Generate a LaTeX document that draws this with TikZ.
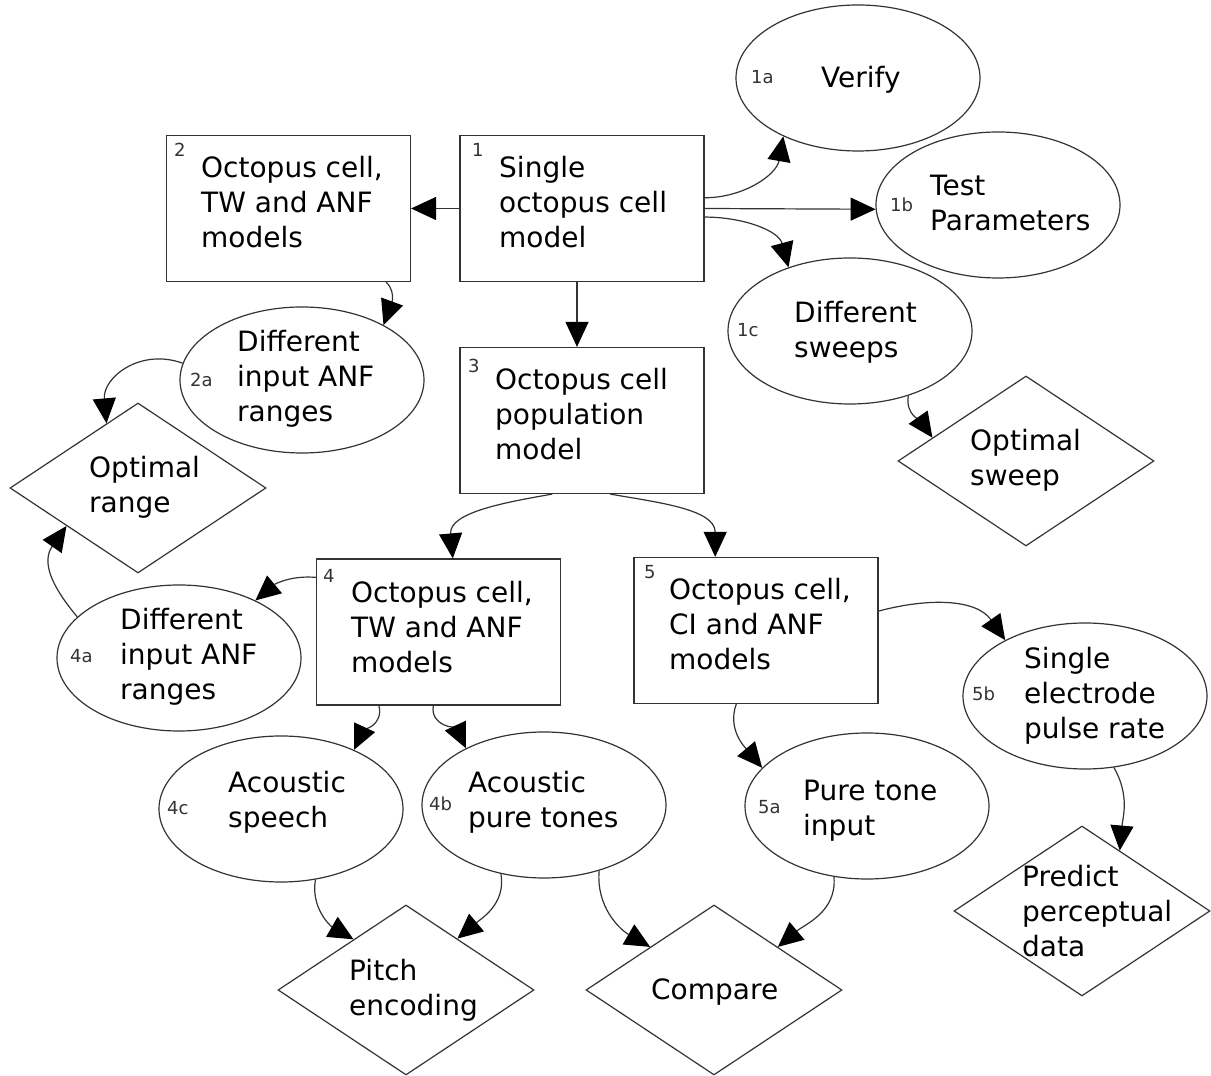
\documentclass[tikz,border=0pt]{standalone}
\usepackage{fontspec}
\setmainfont{DejaVu Sans}
\usetikzlibrary{shapes.geometric,arrows.meta}
\newcommand{\ml}[1]{\begin{tabular}[t]{@{}l@{}}#1\end{tabular}}
\begin{document}
\begin{tikzpicture}[x=1pt,y=1pt,
  shp/.style={draw=black!80, line width=1.2pt, inner sep=0pt},
  box/.style={shp, rectangle, minimum width=244pt, minimum height=146pt},
  ell/.style={shp, ellipse, minimum width=244pt, minimum height=146pt},
  dia/.style={shp, diamond, minimum width=256pt, minimum height=170pt},
  txt/.style={anchor=base west, inner sep=0pt, font=\fontsize{28}{35}\selectfont},
  num/.style={anchor=base west, inner sep=0pt, text=black!80, font=\fontsize{18}{22}\selectfont},
  arr/.style={draw=black!80, line width=1.2pt, -{Triangle[length=25pt,width=23pt,color=black]}}
]
\useasboundingbox (0,0) rectangle (1211,1076);
% shapes
\node[box] (b1) at (582,867.5) {};
\node[box] (b2) at (288.5,867.5) {};
\node[box] (b3) at (582,655.5) {};
\node[box] (b4) at (438.5,444) {};
\node[box] (b5) at (756,445.5) {};
\node[ell] (e1a) at (858,998) {};
\node[ell] (e1b) at (998,871) {};
\node[ell] (e1c) at (850,745) {};
\node[ell] (e2a) at (302,696) {};
\node[ell] (e4a) at (179,418) {};
\node[ell] (e4c) at (281,267) {};
\node[ell] (e4b) at (544,271) {};
\node[ell] (e5a) at (867,270) {};
\node[ell] (e5b) at (1085,380) {};
\node[dia] (dsweep) at (1026,615) {};
\node[dia] (drange) at (138,588) {};
\node[dia] (dpitch) at (406,86) {};
\node[dia] (dcompare) at (714,86) {};
\node[dia] (dpredict) at (1082,165) {};
% texts
\node[txt] (t1) at (499,898) {\ml{Single\\octopus cell\\model}};
\node[num] (n1) at (472,919) {1};
\node[txt] (t2) at (201,898) {\ml{Octopus cell,\\TW and ANF\\models}};
\node[num] (n2) at (174,919) {2};
\node[txt] (t3) at (495,686) {\ml{Octopus cell\\population\\model}};
\node[num] (n3) at (468,703) {3};
\node[txt] (t4) at (351,473) {\ml{Octopus cell,\\TW and ANF\\models}};
\node[num] (n4) at (323,493) {4};
\node[txt] (t5) at (669,476) {\ml{Octopus cell,\\CI and ANF\\models}};
\node[num] (n5) at (644,497) {5};
\node[txt] (t1a) at (821,988) {Verify};
\node[num] (n1a) at (751,992) {1a};
\node[txt] (t1b) at (930,880) {\ml{Test\\Parameters}};
\node[num] (n1b) at (890,864) {1b};
\node[txt] (t1c) at (794,753) {\ml{Different\\sweeps}};
\node[num] (n1c) at (737,739) {1c};
\node[txt] (tsweep) at (970,625) {\ml{Optimal\\sweep}};
\node[txt] (t2a) at (237,724) {\ml{Different\\input ANF\\ranges}};
\node[num] (n2a) at (190,689) {2a};
\node[txt] (trange) at (89,598) {\ml{Optimal\\range}};
\node[txt] (t4a) at (120,446) {\ml{Different\\input ANF\\ranges}};
\node[num] (n4a) at (70,413) {4a};
\node[txt] (t4c) at (228,283) {\ml{Acoustic\\speech}};
\node[num] (n4c) at (167,261) {4c};
\node[txt] (t4b) at (468,283) {\ml{Acoustic\\pure tones}};
\node[num] (n4b) at (429,265) {4b};
\node[txt] (t5a) at (803,275) {\ml{Pure tone\\input}};
\node[num] (n5a) at (758,262) {5a};
\node[txt] (t5b) at (1024,407) {\ml{Single\\electrode\\pulse rate}};
\node[num] (n5b) at (972,375) {5b};
\node[txt] (tpitch) at (349,95) {\ml{Pitch\\encoding}};
\node[txt] (tcompare) at (651,76) {Compare};
\node[txt] (tpredict) at (1022,189) {\ml{Predict\\perceptual\\data}};
% connectors
\draw[arr] (b1.west) -- (b2.east);
\draw[arr] (b1.5) to[out=0,in=-100] (e1a.218);
\draw[arr] (b1.east) -- (e1b.182);
\draw[arr] (b1.-4) to[out=0,in=105] (e1c.134);
\draw[arr] ([xshift=-5pt]b1.south) -- ([xshift=-5pt]b3.north);
\draw[arr] (e1c.-48) to[out=-100,in=125] (dsweep.166);
\draw[arr] (b2.-37) to[out=-45,in=70] (e2a.34);
\draw[arr] (e2a.172) to[out=160,in=95,looseness=1.2] (drange.116);
\draw[arr] (b3.248) to[out=190,in=95] (b4.79);
\draw[arr] (b3.-69) to[out=-10,in=90] (b5.119);
\draw[arr] (b4.156) to[out=175,in=40] (e4a.37);
\draw[arr] (e4a.158) to[out=130,in=235,looseness=1.2] (drange.208);
\draw[arr] (b4.231) to[out=-75,in=65] (e4c.39);
\draw[arr] (b4.266) to[out=-100,in=115] (e4b.144);
\draw[arr] (b5.255) to[out=-110,in=130] (e5a.160);
\draw[arr] (b5.9) to[out=15,in=125] (e5b.145);
\draw[arr] (e5b.-68) to[out=-60,in=85] (dpredict.58);
\draw[arr] (e4c.-64) to[out=-100,in=150] (dpitch.136);
\draw[arr] (e4b.238) to[out=-80,in=40] (dpitch.45);
\draw[arr] (e4b.-50) to[out=-95,in=150] (dcompare.146);
\draw[arr] (e5a.245) to[out=-85,in=40] (dcompare.34);
\end{tikzpicture}
\end{document}
